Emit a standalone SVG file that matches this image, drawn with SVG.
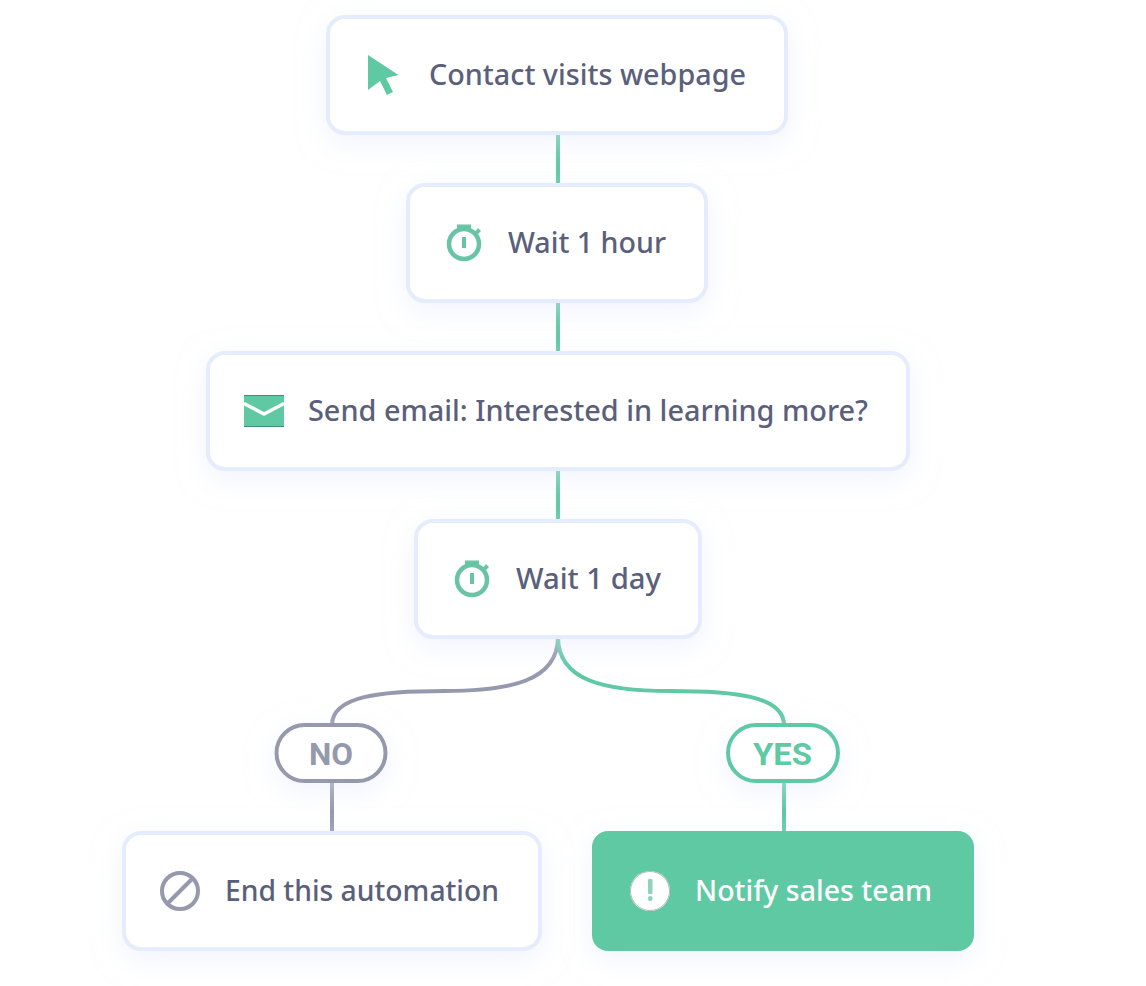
<svg xmlns="http://www.w3.org/2000/svg" width="1146" height="986" viewBox="0 0 1146 986">
<defs>
<filter id="sh" x="-30%" y="-50%" width="160%" height="200%"><feDropShadow dx="0" dy="8" stdDeviation="14" flood-color="#e2e9fb" flood-opacity="0.5"/></filter>
</defs>
<style>
.box{fill:#fff;stroke:#e5ecfb;stroke-width:4;filter:url(#sh)}
.t{font-family:"Noto Sans","Open Sans",sans-serif;font-size:28px;font-weight:500;fill:#5a607b}
.g{fill:none;stroke:#5fc9a3;stroke-width:4}
.n{fill:none;stroke:#9599ad;stroke-width:4}
.pl{font-family:"Roboto","Liberation Sans",sans-serif;font-weight:700;font-size:31px}
</style>
<rect width="1146" height="986" fill="#fff"/>
<g id="connectors">
<path class="g" d="M558 133V185M558 301V353M558 469V521"/>
<path class="n" d="M558 637C558 681 510 691 445 691C380 691 332 696 332 725M332 781V833"/>
<path class="g" d="M558 637C558 681 605 691 670 691C735 691 784 696 784 725M784 781V833"/>
</g>
<g id="n1"><rect class="box" x="328" y="17" width="458" height="116" rx="17"/>
<path fill="#5fc9a3" d="M368 55L398.500 75L386 78L393 92L387 95L380 81L368 90Z"/>
<text class="t" x="429" y="85" textLength="317" lengthAdjust="spacingAndGlyphs">Contact visits webpage</text></g>
<g id="n2"><rect class="box" x="408" y="185" width="298" height="116" rx="17"/>
<circle cx="464" cy="244" r="15" fill="none" stroke="#68c4a4" stroke-width="4.500"/>
<path fill="#68c4a4" d="M457 224.500H471V229H457ZM462 237H466V248H462ZM474 233L478 228L481 231L476 236Z"/>
<text class="t" x="508" y="253" textLength="158" lengthAdjust="spacingAndGlyphs">Wait 1 hour</text></g>
<g id="n3"><rect class="box" x="208" y="353" width="700" height="116" rx="17"/>
<rect x="244" y="395" width="40" height="32" fill="#5fc9a3"/>
<path d="M244 395.500H284M244 426.500H284" stroke="#3f8f72" stroke-width="1"/>
<path d="M244 403.500L264 414L284 403.500" fill="none" stroke="#fff" stroke-width="3.500"/>
<text class="t" x="308" y="421" textLength="560" lengthAdjust="spacingAndGlyphs">Send email: Interested in learning more?</text></g>
<g id="n4"><rect class="box" x="416" y="521" width="284" height="116" rx="17"/>
<circle cx="472" cy="580" r="15" fill="none" stroke="#68c4a4" stroke-width="4.500"/>
<path fill="#68c4a4" d="M465 560.500H479V565H465ZM470 573H474V584H470ZM482 569L486 564L489 567L484 572Z"/>
<text class="t" x="516" y="589" textLength="145" lengthAdjust="spacingAndGlyphs">Wait 1 day</text></g>
<g id="no"><rect x="276.500" y="725" width="109" height="56" rx="28" fill="#fff" stroke="#9599ad" stroke-width="4" filter="url(#sh)"/>
<text class="pl" x="309" y="765" fill="#9599ad" textLength="44" lengthAdjust="spacingAndGlyphs">NO</text></g>
<g id="yes"><rect x="728" y="725" width="110" height="56" rx="28" fill="#fff" stroke="#5fc9a3" stroke-width="4" filter="url(#sh)"/>
<text class="pl" x="753" y="765" fill="#5fc9a3" textLength="59" lengthAdjust="spacingAndGlyphs">YES</text></g>
<g id="n5"><rect class="box" x="124" y="833" width="416" height="116" rx="17"/>
<circle cx="180" cy="891" r="18" fill="none" stroke="#9599ad" stroke-width="4"/>
<path d="M168 903L192 879" stroke="#9599ad" stroke-width="4"/>
<text class="t" x="225" y="901" textLength="274" lengthAdjust="spacingAndGlyphs">End this automation</text></g>
<g id="n6"><rect x="592" y="831" width="382" height="120" rx="16" fill="#5fc9a3" filter="url(#sh)"/>
<circle cx="650" cy="891" r="20" fill="#fff"/><circle cx="650" cy="891" r="19.500" fill="none" stroke="#b5b9bd" stroke-width="1"/>
<rect x="648" y="879" width="4.500" height="15" rx="1" fill="#8fd4ba"/><rect x="648" y="896" width="4.500" height="5" rx="2" fill="#8fd4ba"/>
<text class="t" style="fill:#fff" x="695" y="901" textLength="237" lengthAdjust="spacingAndGlyphs">Notify sales team</text></g>
</svg>
